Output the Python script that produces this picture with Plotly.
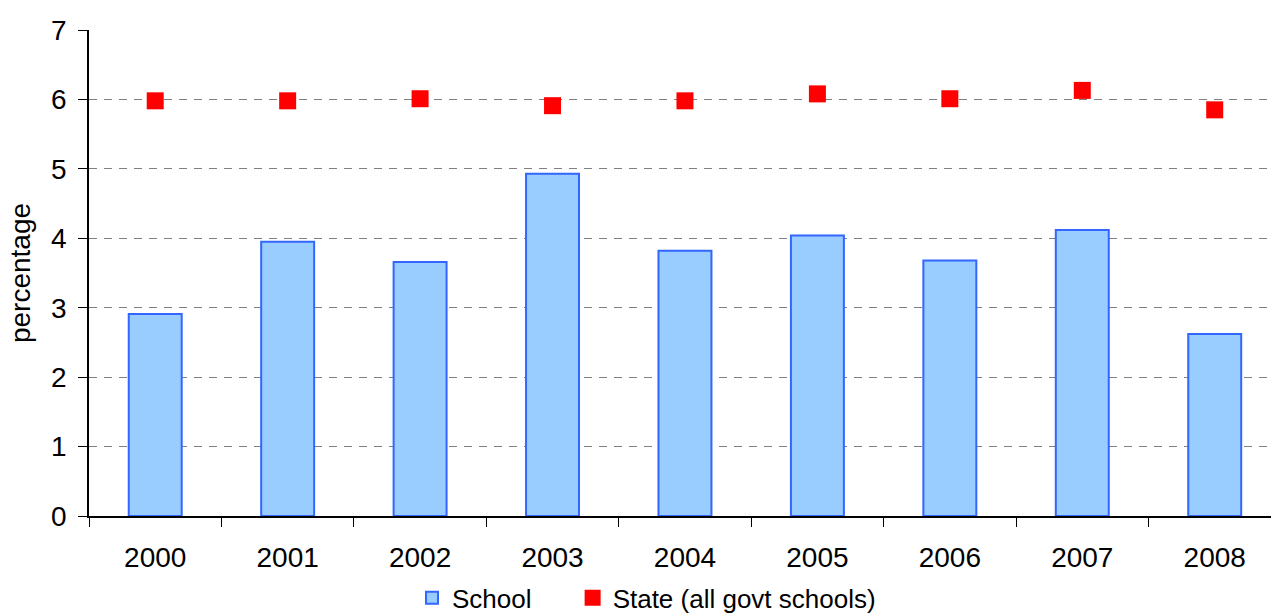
import plotly.graph_objects as go

years = ["2000", "2001", "2002", "2003", "2004", "2005", "2006", "2007", "2008"]
school = [2.91, 3.95, 3.66, 4.93, 3.82, 4.04, 3.68, 4.12, 2.62]
state = [5.98, 5.98, 6.01, 5.91, 5.98, 6.08, 6.01, 6.13, 5.85]
y_ticks = [0, 1, 2, 3, 4, 5, 6, 7]
series_names = ["School", "State (all govt schools)"]

FONT = "Liberation Sans, Arial, sans-serif"
FS = 28

fig = go.Figure()
fig.add_trace(go.Bar(
    x=years, y=school, name=series_names[0] + "\u00a0" * 5, width=0.4,
    marker=dict(color="#99CCFF", line=dict(color="#3366FF", width=2)),
))
fig.add_trace(go.Scatter(
    x=years, y=state, name=series_names[1], mode="markers",
    marker=dict(symbol="square", size=17, color="#FF0000", line=dict(width=0)),
))

fig.update_layout(
    width=1271, height=615,
    margin=dict(l=89, r=0, t=30, b=99, pad=0),
    paper_bgcolor="white", plot_bgcolor="white",
    font=dict(family=FONT, size=FS, color="black"),
    showlegend=True,
    legend=dict(orientation="h", xref="container", x=412 / 1271, xanchor="left",
                yref="container", y=0.028, yanchor="middle",
                font=dict(size=26), itemwidth=30, tracegroupgap=0,
                bgcolor="rgba(0,0,0,0)"),
)
fig.update_xaxes(
    type="category", range=[-0.5, 8.425], automargin=False,
    showline=True, linecolor="black", linewidth=1.5,
    ticks="outside", tickson="boundaries", ticklen=9, tickcolor="black", tickwidth=1,
    showgrid=False, ticklabelstandoff=16, tickfont=dict(size=FS),
)
fig.update_yaxes(
    range=[0, 7], tickvals=y_ticks, automargin=False,
    showline=True, linecolor="black", linewidth=1.5,
    ticks="outside", ticklen=9, tickcolor="black", tickwidth=1,
    showgrid=True, gridcolor="#808080", griddash="8px,7px", gridwidth=1,
    zeroline=False, ticklabelstandoff=6, tickfont=dict(size=FS),
    title=dict(text="percentage", font=dict(size=FS), standoff=12),
)

fig.write_html(
    "out.html",
    config={"displayModeBar": False},
    post_script="document.body.style.margin='0';document.body.style.overflow='hidden';",
)
